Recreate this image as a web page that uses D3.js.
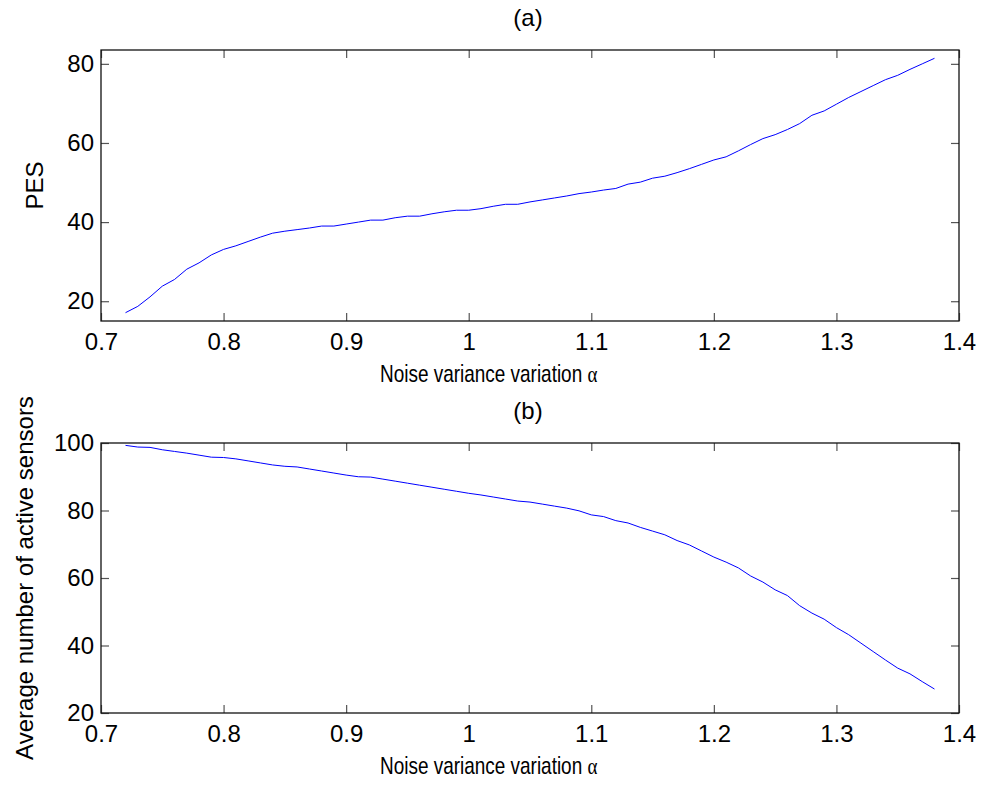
<!DOCTYPE html>
<html>
<head>
<meta charset="utf-8">
<script src="https://cdn.jsdelivr.net/npm/d3@7"></script>
<style>
    body { margin: 0; background: #fff; }
    text { font-family: "Liberation Sans", Arial, sans-serif; fill: #000; }
</style>
</head>
<body>
<div id="chart"></div>
<script>
// x values (noise variance variation alpha)
var alphaValues = [0.72, 0.73, 0.74, 0.75, 0.76, 0.77, 0.78, 0.79, 0.80, 0.81,
    0.82, 0.83, 0.84, 0.85, 0.86, 0.87, 0.88, 0.89, 0.90, 0.91,
    0.92, 0.93, 0.94, 0.95, 0.96, 0.97, 0.98, 0.99, 1.00, 1.01,
    1.02, 1.03, 1.04, 1.05, 1.06, 1.07, 1.08, 1.09, 1.10, 1.11,
    1.12, 1.13, 1.14, 1.15, 1.16, 1.17, 1.18, 1.19, 1.20, 1.21,
    1.22, 1.23, 1.24, 1.25, 1.26, 1.27, 1.28, 1.29, 1.30, 1.31,
    1.32, 1.33, 1.34, 1.35, 1.36, 1.37, 1.38];

// panel (a): PES
var pesValues = [17.1, 18.7, 21.1, 23.8, 25.5, 28.1, 29.7, 31.7, 33.1, 34.0,
    35.1, 36.2, 37.2, 37.7, 38.1, 38.5, 39.0, 39.0, 39.5, 40.0,
    40.5, 40.5, 41.1, 41.5, 41.5, 42.1, 42.6, 43.0, 43.0, 43.4,
    44.0, 44.5, 44.5, 45.1, 45.6, 46.1, 46.6, 47.2, 47.6, 48.1,
    48.5, 49.6, 50.1, 51.1, 51.6, 52.5, 53.5, 54.6, 55.7, 56.5,
    58.0, 59.6, 61.1, 62.1, 63.4, 64.9, 67.0, 68.1, 69.8, 71.5,
    73.0, 74.5, 76.0, 77.1, 78.6, 80.0, 81.4];

// panel (b): average number of active sensors
var activeSensors = [99.3, 98.8, 98.7, 98.0, 97.5, 97.0, 96.4, 95.8, 95.7, 95.3,
    94.7, 94.1, 93.5, 93.1, 92.9, 92.3, 91.7, 91.1, 90.5, 90.0,
    89.9, 89.3, 88.7, 88.1, 87.5, 86.9, 86.3, 85.7, 85.1, 84.6,
    84.0, 83.4, 82.8, 82.5, 81.9, 81.3, 80.7, 79.9, 78.7, 78.2,
    77.0, 76.3, 75.0, 73.9, 72.8, 71.1, 69.8, 68.0, 66.2, 64.7,
    63.0, 60.6, 58.8, 56.5, 54.8, 51.8, 49.6, 47.8, 45.3, 43.2,
    40.7, 38.2, 35.7, 33.3, 31.6, 29.3, 27.1];

var xTicks = [0.7, 0.8, 0.9, 1.0, 1.1, 1.2, 1.3, 1.4];
var pesTicks = [20, 40, 60, 80];
var sensorTicks = [20, 40, 60, 80, 100];

var svg = d3.select('#chart').append('svg')
    .attr('width', 981)
    .attr('height', 787);

function drawPanel(opts) {
    var x_scale = d3.scaleLinear()
        .domain([0.7, 1.4])
        .range([101, 959]);

    var y_scale = d3.scaleLinear()
        .domain(opts.yDomain)
        .range([opts.bottom, opts.top]);

    var g = svg.append('g');

    // ticks point inward on all four sides, like matlab's box
    g.append('g')
        .attr('transform', 'translate(0,' + opts.bottom + ')')
        .call(d3.axisBottom(x_scale).tickValues(xTicks).tickSizeInner(-8).tickSizeOuter(0)
            .tickPadding(12).tickFormat(function(d) { return d3.format('')(+d.toFixed(1)); }));

    g.append('g')
        .attr('transform', 'translate(0,' + opts.top + ')')
        .call(d3.axisTop(x_scale).tickValues(xTicks).tickSizeInner(-8).tickSizeOuter(0).tickFormat(''));

    g.append('g')
        .attr('transform', 'translate(101,0)')
        .call(d3.axisLeft(y_scale).tickValues(opts.yTicks).tickSizeInner(-8).tickSizeOuter(0).tickPadding(7));

    g.append('g')
        .attr('transform', 'translate(959,0)')
        .call(d3.axisRight(y_scale).tickValues(opts.yTicks).tickSizeInner(-8).tickSizeOuter(0).tickFormat(''));

    g.selectAll('.domain').remove();
    g.selectAll('.tick line').attr('stroke', '#555').attr('stroke-width', 1.2);
    g.selectAll('.tick text')
        .style('font-size', '24px')
        .style('font-family', '"Liberation Sans", Arial, sans-serif')
        .attr('fill', '#000');

    // box around the plot
    g.append('rect')
        .attr('x', 101)
        .attr('y', opts.top)
        .attr('width', 858)
        .attr('height', opts.bottom - opts.top)
        .attr('fill', 'none')
        .attr('stroke', '#111')
        .attr('stroke-width', 1.3);

    var line = d3.line()
        .x(function(d, i) { return x_scale(alphaValues[i]); })
        .y(function(d) { return y_scale(d); });

    g.append('path')
        .datum(opts.values)
        .attr('d', line)
        .attr('fill', 'none')
        .attr('stroke', '#0000ff')
        .attr('stroke-width', 1);

    // title
    g.append('text')
        .attr('x', 528)
        .attr('y', opts.top - 24)
        .attr('text-anchor', 'middle')
        .style('font-size', '24px')
        .text(opts.title);

    // x label is narrow in the original, so squeeze it horizontally
    var xlabel = g.append('text')
        .attr('transform', 'translate(380,' + (opts.bottom + 61) + ')scale(0.79,1)')
        .style('font-size', '24px');
    xlabel.append('tspan').text('Noise variance variation ');
    xlabel.append('tspan')
        .style('font-family', '"Liberation Serif", "DejaVu Serif", serif')
        .text('\u03b1');

    // y label
    g.append('text')
        .attr('transform', 'translate(' + opts.yLabelX + ',' + ((opts.top + opts.bottom) / 2) + ')rotate(-90)')
        .attr('text-anchor', 'middle')
        .style('font-size', '24px')
        .text(opts.yLabel);
}

drawPanel({
    top: 50,
    bottom: 321,
    yDomain: [15, 83.5],
    yTicks: pesTicks,
    values: pesValues,
    title: '(a)',
    yLabel: 'PES',
    yLabelX: 43
});

drawPanel({
    top: 443,
    bottom: 713,
    yDomain: [20, 100],
    yTicks: sensorTicks,
    values: activeSensors,
    title: '(b)',
    yLabel: 'Average number of active sensors',
    yLabelX: 33
});
</script>
</body>
</html>
